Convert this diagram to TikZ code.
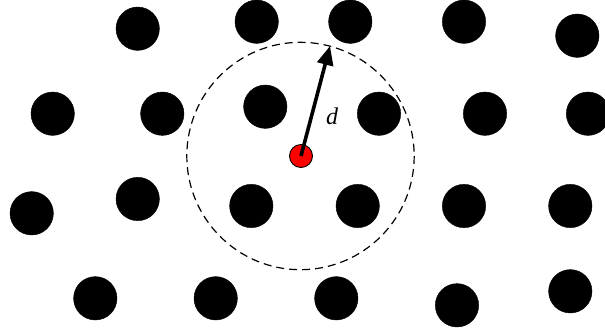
\documentclass[tikz,border=0pt]{standalone}
\usepackage{fontspec}
\setmainfont{Liberation Serif}
\usetikzlibrary{arrows.meta}
\usetikzlibrary{calc,positioning}

\tikzset{
  site/.style={circle,fill=black,draw=black,inner sep=0pt,minimum size=43.4pt},
  source/.style={circle,fill=red,draw=black,line width=0.9pt,inner sep=0pt,minimum size=23pt},
}

\begin{document}
\begin{tikzpicture}[x=1pt,y=-1pt]
        \useasboundingbox (0,0) rectangle (605,335);

        % lattice sites
        \foreach \name/\px/\py in {a1/137.7/28.7, a2/256.7/21.7, a3/350.3/21.7, a4/464/21.7, a5/577.3/35.7,
                                   b1/52.7/113.7, b2/162.3/113.7, b3/265.3/106.7, b4/379/113.7, b5/485/113.7, b6/588/113.7,
                                   c1/31.7/213.3, c2/137.7/199, c3/251.3/206, c4/357.7/206, c5/464/206, c6/570.3/206,
                                   d1/95.3/298.3, d2/215.7/298.3, d3/336.3/298.3, d4/457/305.3, d5/570.3/291.3}
          \node[site] (\name) at (\px,\py) {};

        % range circle
        \draw[line width=1.2pt,dash pattern=on 8pt off 5pt] (300.5,156) circle (113.7);

        \node[source] (src) at (301,156) {};
        \coordinate (tip) at (330,46);

        \draw[-{Triangle[length=19pt,width=16pt]},line width=3.6pt] (src.center) -- (tip);

        \node[font=\fontsize{24}{28}\selectfont\itshape] (dlabel) at (332,116) {d};
      \end{tikzpicture}
\end{document}
